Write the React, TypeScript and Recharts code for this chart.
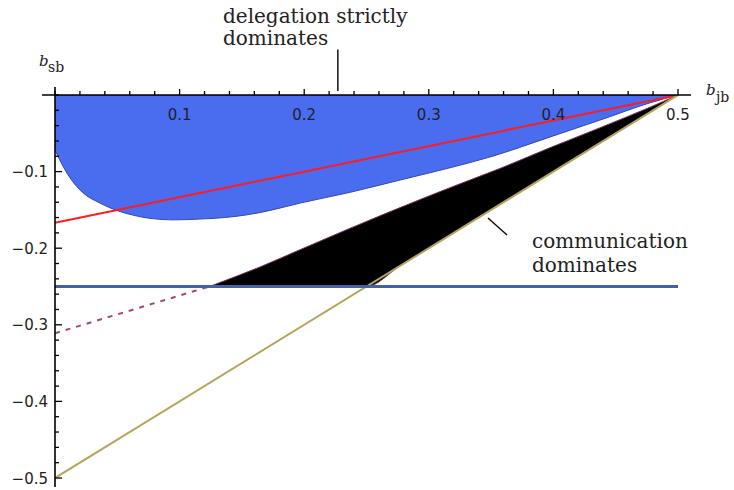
import React from "react";
import { ComposedChart, Area, Line, XAxis, YAxis, ReferenceLine } from "recharts";

// ---- data ----
const blueX = [0, 0.0096, 0.022, 0.036, 0.05, 0.063, 0.076, 0.096, 0.116, 0.136, 0.156, 0.177, 0.197, 0.237, 0.277, 0.317, 0.349, 0.397, 0.437, 0.478, 0.5];
const blueLower = [-0.072, -0.102, -0.127, -0.141, -0.151, -0.157, -0.161, -0.163, -0.162, -0.16, -0.156, -0.149, -0.141, -0.127, -0.111, -0.095, -0.081, -0.055, -0.033, -0.01, 0];
const blueUpper = [0, 0, 0, 0, 0, 0, 0, 0, 0, 0, 0, 0, 0, 0, 0, 0, 0, 0, 0, 0, 0];

const blackX = [0.124, 0.145, 0.1645, 0.1966, 0.2368, 0.25, 0.277, 0.317, 0.357, 0.397, 0.437, 0.4775, 0.5];
const blackUpper = [-0.25, -0.237, -0.2245, -0.202, -0.174, -0.165, -0.147, -0.121, -0.096, -0.069, -0.043, -0.016, 0];
const blackLower = [-0.25, -0.25, -0.25, -0.25, -0.25, -0.25, -0.223, -0.183, -0.143, -0.103, -0.063, -0.0225, 0];

const redX = [0, 0.5];
const redY = [-0.1667, 0];

const dashX = [0, 0.124];
const dashY = [-0.311, -0.25];

const oliveX = [0, 0.5];
const oliveY = [-0.5, 0];

const hlineX = [0, 0.5];
const hlineY = [-0.25, -0.25];

const xTicks = [0, 0.02, 0.04, 0.06, 0.08, 0.1, 0.12, 0.14, 0.16, 0.18, 0.2, 0.22, 0.24, 0.26, 0.28, 0.3, 0.32, 0.34, 0.36, 0.38, 0.4, 0.42, 0.44, 0.46, 0.48, 0.5];
const xMajorTicks = [0.1, 0.2, 0.3, 0.4, 0.5];
const xMajorLabels = ["0.1", "0.2", "0.3", "0.4", "0.5"];
const yTicks = [0, -0.02, -0.04, -0.06, -0.08, -0.1, -0.12, -0.14, -0.16, -0.18, -0.2, -0.22, -0.24, -0.26, -0.28, -0.3, -0.32, -0.34, -0.36, -0.38, -0.4, -0.42, -0.44, -0.46, -0.48, -0.5];
const yMajorTicks = [-0.1, -0.2, -0.3, -0.4, -0.5];
const yMajorLabels = ["\u22120.1", "\u22120.2", "\u22120.3", "\u22120.4", "\u22120.5"];

// ---- tables built from the arrays ----
const blueData = blueX.map((x, i) => ({ x, range: [blueLower[i], blueUpper[i]] }));
const blackData = blackX.map((x, i) => ({ x, range: [blackLower[i], blackUpper[i]] }));
const redData = redX.map((x, i) => ({ x, y: redY[i] }));
const dashData = dashX.map((x, i) => ({ x, y: dashY[i] }));
const oliveData = oliveX.map((x, i) => ({ x, y: oliveY[i] }));
const hlineData = hlineX.map((x, i) => ({ x, y: hlineY[i] }));

const tickFont = { fontFamily: "DejaVu Sans", fontSize: 15, fill: "#222" };

const XTick = (props: any) => {
  const { x, y, payload } = props;
  const i = xMajorTicks.findIndex((m) => Math.abs(m - payload.value) < 1e-9);
  const major = i >= 0;
  return (
    <g>
      <line x1={x} x2={x} y1={y} y2={y - (major ? 6 : 4)} stroke="#000" strokeWidth={1.3} />
      {major && (
        <text x={x} y={y + 25} textAnchor="middle" {...tickFont}>
          {xMajorLabels[i]}
        </text>
      )}
    </g>
  );
};

const YTick = (props: any) => {
  const { x, y, payload } = props;
  const i = yMajorTicks.findIndex((m) => Math.abs(m - payload.value) < 1e-9);
  const major = i >= 0;
  return (
    <g>
      <line x1={x} x2={x + (major ? 7 : 4)} y1={y} y2={y} stroke="#000" strokeWidth={1.3} />
      {major && (
        <text x={x - 7} y={y + 5.5} textAnchor="end" {...tickFont}>
          {yMajorLabels[i]}
        </text>
      )}
    </g>
  );
};

const annFont = { fontFamily: "DejaVu Serif", fontSize: 20, fill: "#222" };

export default function App() {
  return (
    <div style={{ position: "absolute", left: 0, top: 0, width: 734, height: 490, background: "#fff" }}>
      <ComposedChart width={734} height={490} margin={{ top: 75, right: 56, bottom: 12, left: 5 }}>
        <XAxis
          type="number"
          dataKey="x"
          orientation="top"
          domain={[0, 0.5]}
          ticks={xTicks}
          interval={0}
          allowDataOverflow
          height={20}
          axisLine={false}
          tickLine={false}
          tickSize={0}
          tickMargin={0}
          tick={<XTick />}
        />
        <YAxis
          type="number"
          domain={[-0.5, 0]}
          ticks={yTicks}
          interval={0}
          allowDataOverflow
          width={50}
          axisLine={false}
          tickLine={false}
          tickSize={0}
          tickMargin={0}
          tick={<YTick />}
        />
        <Area
          data={blueData}
          dataKey="range"
          type="monotone"
          fill="#4a6cef"
          fillOpacity={1}
          stroke="#3448b0"
          strokeWidth={1}
          isAnimationActive={false}
          dot={false}
          activeDot={false}
        />
        <Area
          data={blackData}
          dataKey="range"
          type="monotone"
          fill="#000"
          fillOpacity={1}
          stroke="#7a3064"
          strokeWidth={1}
          isAnimationActive={false}
          dot={false}
          activeDot={false}
        />
        <Line data={redData} dataKey="y" type="linear" stroke="#ff1c1c" strokeWidth={2} dot={false} activeDot={false} isAnimationActive={false} />
        <Line data={dashData} dataKey="y" type="linear" stroke="#a3457f" strokeWidth={2} strokeDasharray="5 6" dot={false} activeDot={false} isAnimationActive={false} />
        <Line data={oliveData} dataKey="y" type="linear" stroke="#b4a45c" strokeWidth={2} dot={false} activeDot={false} isAnimationActive={false} />
        <Line data={hlineData} dataKey="y" type="linear" stroke="#4262a8" strokeWidth={3} dot={false} activeDot={false} isAnimationActive={false} />
        <ReferenceLine segment={[{ x: -0.0104, y: 0 }, { x: 0.5104, y: 0 }]} stroke="#000" strokeWidth={1.6} ifOverflow="visible" />
        <ReferenceLine segment={[{ x: 0, y: 0.0104 }, { x: 0, y: -0.5117 }]} stroke="#000" strokeWidth={1.6} ifOverflow="visible" />
        <ReferenceLine segment={[{ x: 0.227, y: 0.0594 }, { x: 0.227, y: 0.0052 }]} stroke="#111" strokeWidth={1.5} ifOverflow="visible" />
        <ReferenceLine segment={[{ x: 0.3475, y: -0.1606 }, { x: 0.3628, y: -0.1828 }]} stroke="#111" strokeWidth={1.5} ifOverflow="visible" />
      </ComposedChart>
      <svg width={734} height={490} style={{ position: "absolute", left: 0, top: 0, pointerEvents: "none" }}>
        <text x={223} y={23} {...annFont}>delegation strictly</text>
        <text x={223} y={45} {...annFont}>dominates</text>
        <text x={532} y={248} {...annFont}>communication</text>
        <text x={532} y={272} {...annFont}>dominates</text>
        <text x={39} y={66} fontFamily="DejaVu Serif" fontStyle="italic" fontSize={15} fill="#222">b</text>
        <text x={48} y={72} fontFamily="DejaVu Serif" fontSize={14} fill="#222">sb</text>
        <text x={706} y={95} fontFamily="DejaVu Serif" fontStyle="italic" fontSize={15} fill="#222">b</text>
        <text x={716} y={102} fontFamily="DejaVu Serif" fontSize={14} fill="#222">jb</text>
      </svg>
    </div>
  );
}
